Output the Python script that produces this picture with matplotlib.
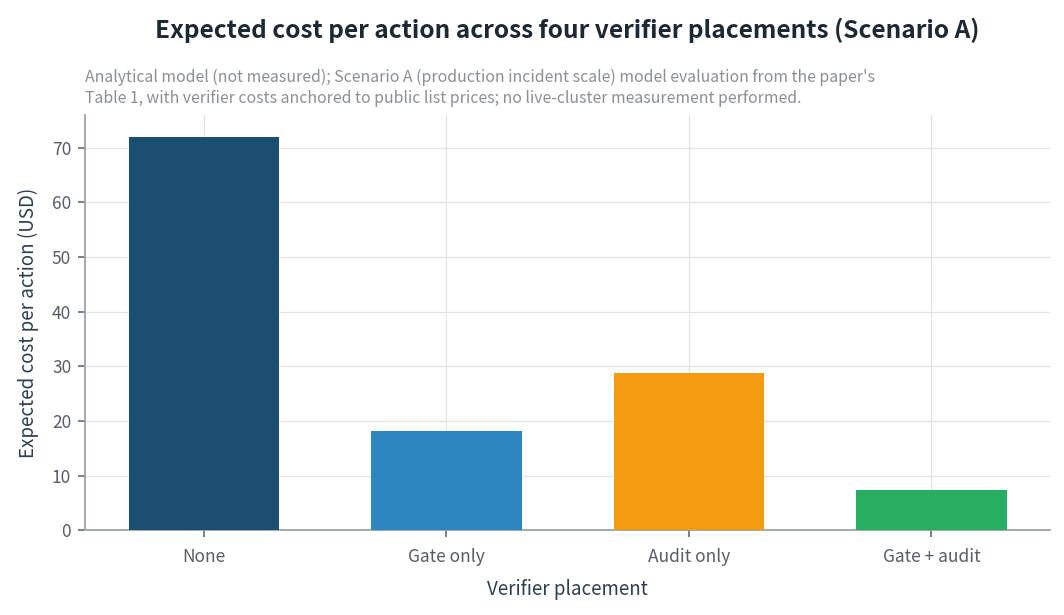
import matplotlib.pyplot as plt

plt.rcParams['font.family'] = ['Noto Sans CJK KR', 'DejaVu Sans']

placements = ['None', 'Gate only', 'Audit only', 'Gate + audit']
cost_usd = [72.0, 18.1, 28.7, 7.3]
bar_colors = ['#1b4f72', '#2e86c1', '#f39c12', '#27ae60']

title = 'Expected cost per action across four verifier placements (Scenario A)'
subtitle = ("Analytical model (not measured); Scenario A (production incident scale) model evaluation from the paper's\n"
            "Table 1, with verifier costs anchored to public list prices; no live-cluster measurement performed.")

fig = plt.figure(figsize=(10.64, 6.15), dpi=100)
ax = fig.add_axes([0.08, 0.138, 0.907, 0.675])

x = list(range(len(placements)))
ax.bar(x, cost_usd, width=0.62, color=bar_colors, zorder=3)

ax.set_xlim(-0.49, 3.49)
ax.set_ylim(0, 76)
ax.set_xticks(x)
ax.set_xticklabels(placements)
ax.set_yticks(range(0, 80, 10))

ax.grid(True, color='#e3e3e3', linewidth=0.9, zorder=0)
ax.set_axisbelow(True)
for side in ['top', 'right']:
    ax.spines[side].set_visible(False)
for side in ['left', 'bottom']:
    ax.spines[side].set_color('#9aa5a6')
    ax.spines[side].set_linewidth(1.3)

ax.tick_params(axis='both', colors='#555d66', labelsize=12.5, length=5, width=1.1)
ax.tick_params(axis='x', pad=8)
ax.tick_params(axis='y', pad=5)

ax.set_xlabel('Verifier placement', fontsize=13.5, color='#2c3e50', labelpad=9)
ax.set_ylabel('Expected cost per action (USD)', fontsize=13.5, color='#2c3e50', labelpad=9)

fig.text(0.533, 0.951, title, ha='center', va='center', fontsize=17.6,
         color='#1c2833', fontweight='bold')
fig.text(0.08, 0.857, subtitle, ha='left', va='center', fontsize=11.4,
         color='#8a8f94', linespacing=1.35)

fig.savefig('out.png', dpi=100)
